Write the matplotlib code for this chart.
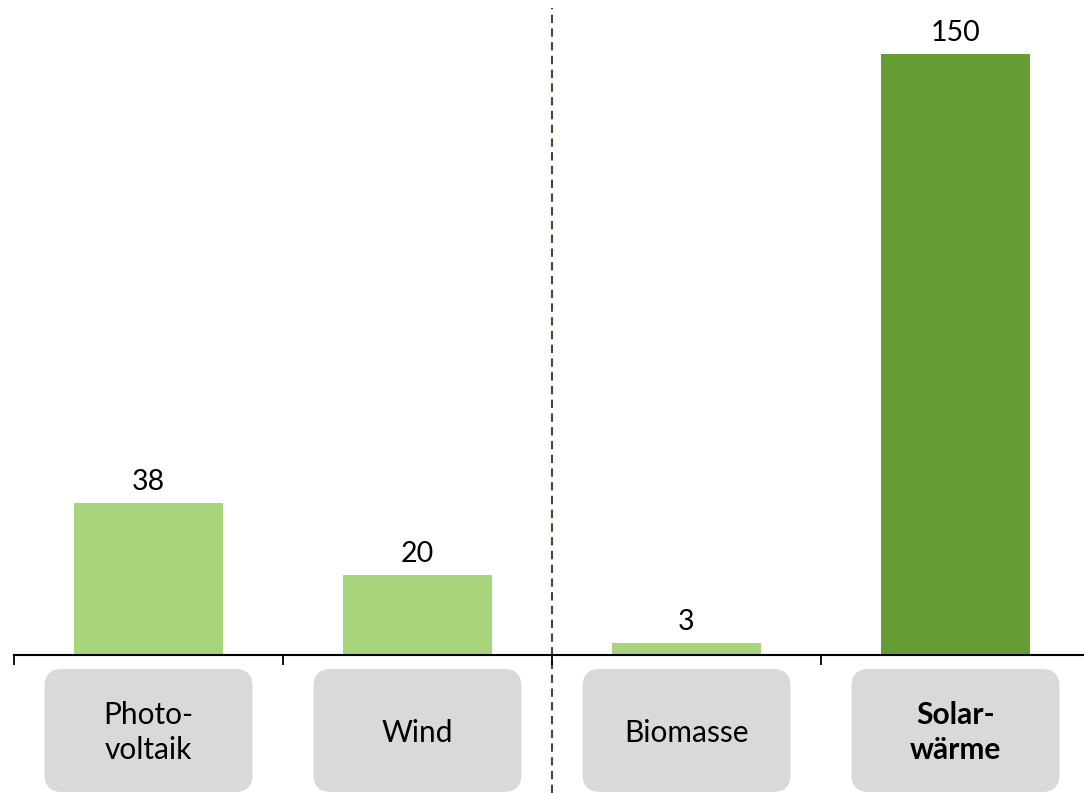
import matplotlib
matplotlib.use("Agg")
import matplotlib.pyplot as plt
from matplotlib.patches import FancyBboxPatch

categories = ["Photo-\nvoltaik", "Wind", "Biomasse", "Solar-\nwärme"]
values = [38, 20, 3, 150]
bar_colors = ["#a8d57b", "#a8d57b", "#a8d57b", "#659c33"]
bold_label = [False, False, False, True]

plt.rcParams["font.family"] = ["Lato", "DejaVu Sans"]

W, H = 1084, 793
fig = plt.figure(figsize=(W / 100, H / 100), dpi=100)
# axes: x from px 14 to 1090, baseline at px 655 from top
ax = fig.add_axes([14 / W, 138 / H, 1076 / W, 655 / H])

ymax = 655 / 4.007
ax.set_xlim(-0.5, 3.5)
ax.set_ylim(0, ymax)

x = range(len(values))
ax.bar(x, values, width=0.557, color=bar_colors)

for xi, v in zip(x, values):
    ax.annotate(str(v), (xi, v), xytext=(0, 9.5), textcoords="offset points",
                ha="center", va="baseline", fontsize=20.5)

for s in ["top", "right", "left"]:
    ax.spines[s].set_visible(False)
ax.spines["bottom"].set_linewidth(1.5)
ax.spines["bottom"].set_clip_on(False)
ax.set_yticks([])
ax.set_xticks([])
ax.set_xticks([-0.5, 0.5, 1.5, 2.5, 3.5], minor=True)
ax.tick_params(axis="x", which="minor", length=7, width=1.3, direction="out",
               labelbottom=False)

# dashed separator
ax.axvline(1.5, ymin=-138 / 655, ymax=1 - 8 / 655, color="#3b4f2a",
           linestyle=(0, (4, 2.6)), linewidth=1.5, clip_on=False, zorder=0)

# rounded label boxes below the axis
px_y = 1 / 4.007
aspect = 269 / 4.007
half_w = 104 / 269
y_top = -14 * px_y
y_bot = -137 * px_y
for xi, lab, b in zip(x, categories, bold_label):
    box = FancyBboxPatch((xi - half_w, y_bot), 2 * half_w, y_top - y_bot,
                         boxstyle="round,pad=0,rounding_size=0.065",
                         mutation_aspect=aspect, facecolor="#d9d9d9",
                         edgecolor="none", clip_on=False)
    ax.add_patch(box)
    ax.text(xi, (y_top + y_bot) / 2 - 0.6, lab, ha="center", va="center",
            fontsize=21.5, linespacing=1.3,
            fontweight="bold" if b else "normal", clip_on=False)

fig.savefig("out.png", dpi=100)
